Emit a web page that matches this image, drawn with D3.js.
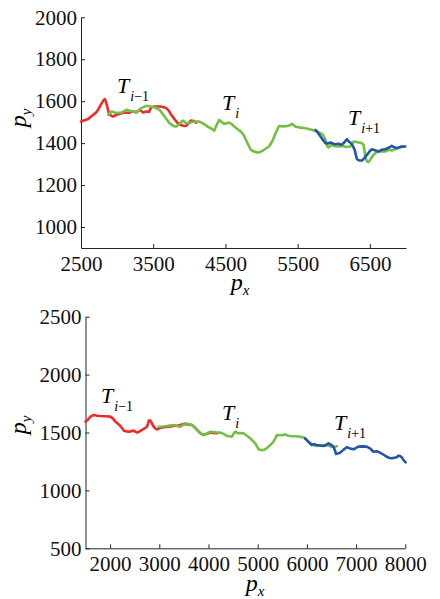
<!DOCTYPE html>
<html><head><meta charset="utf-8">
<script src="https://cdn.jsdelivr.net/npm/d3@7"></script>
<style>body{margin:0;background:#fff;}</style></head>
<body><svg id="c" width="440" height="599" font-family="Liberation Serif"></svg>
<script>
// ---- Panel 1 (top) data ----
const topRedX = [2500,2600,2670,2720,2762,2790,2808,2830,2845,2862,2878,2891,2920,2946,2990,3037,3100,3160,3221,3270,3312,3360,3404,3440,3473,3520,3588,3640,3680,3715,3749,3800,3840,3890,3932,3960,3990,4024,4060,4094];
const topRedY = [1503,1515,1535,1550,1575,1592,1603,1610,1598,1575,1552,1540,1530,1527,1535,1540,1546,1545,1551,1548,1559,1546,1551,1548,1571,1575,1575,1572,1567,1555,1535,1512,1495,1485,1482,1483,1495,1508,1505,1498];
const topGreenX = [2877,2923,2990,3060,3129,3200,3266,3335,3404,3460,3519,3588,3657,3726,3780,3818,3860,3910,3950,3979,4030,4071,4140,4200,4254,4300,4346,4380,4415,4450,4484,4520,4553,4590,4622,4670,4714,4750,4783,4820,4852,4897,4930,4966,5020,5104,5150,5196,5242,5300,5360,5403,5420,5470,5540,5610,5680,5724,5770,5816,5850,5885,5910,5931,5960,6000,6060,6120,6175,6229,6275,6330,6390,6415,6427,6440,6459,6480,6504,6540,6574,6620,6670,6712,6760,6800,6840,6872,6920,6964];
const topGreenY = [1535,1551,1544,1546,1559,1552,1546,1567,1578,1575,1571,1559,1527,1495,1482,1479,1490,1508,1497,1495,1500,1503,1503,1492,1479,1470,1460,1488,1511,1500,1492,1495,1498,1490,1479,1466,1455,1440,1416,1390,1368,1360,1356,1356,1365,1384,1410,1448,1482,1480,1482,1487,1492,1478,1474,1471,1465,1460,1455,1448,1440,1416,1384,1380,1392,1387,1384,1386,1382,1384,1408,1404,1400,1390,1360,1330,1313,1310,1321,1340,1352,1362,1360,1360,1368,1365,1370,1376,1380,1384];
const topBlueX = [5747,5780,5816,5850,5885,5920,5954,6010,6068,6100,6137,6160,6183,6205,6229,6260,6289,6305,6321,6350,6390,6425,6459,6495,6528,6570,6620,6660,6712,6760,6803,6840,6872,6920,6964,6990];
const topBlueY = [1463,1450,1432,1415,1400,1398,1403,1395,1397,1392,1400,1410,1419,1408,1403,1390,1368,1345,1324,1318,1317,1330,1344,1360,1371,1366,1360,1368,1371,1378,1387,1380,1376,1382,1384,1384];

// ---- Panel 2 (bottom) data ----
const botRedX = [1500,1550,1601,1668,1740,1804,1900,2007,2060,2108,2160,2210,2250,2277,2330,2379,2430,2480,2520,2548,2600,2650,2700,2751,2770,2785,2810,2832,2860,2886,2920,2954,3020,3089,3190,3292,3390,3495,3580,3664,3730,3800,3850,3901,3970,4037,4100,4172];
const botRedY = [1594,1610,1637,1651,1645,1642,1640,1637,1620,1594,1575,1556,1535,1516,1510,1507,1512,1516,1505,1499,1510,1522,1535,1550,1575,1602,1605,1594,1570,1550,1535,1527,1540,1545,1550,1556,1560,1573,1570,1565,1540,1507,1490,1478,1490,1499,1496,1493];
const botGreenX = [2988,3070,3157,3220,3292,3360,3428,3480,3529,3600,3664,3730,3800,3850,3901,3970,4037,4140,4240,4310,4375,4430,4476,4510,4544,4580,4611,4660,4713,4780,4848,4900,4950,4985,5017,5070,5119,5170,5220,5270,5322,5360,5389,5450,5524,5560,5600,5660,5760,5863,5920,5964,6020,6066,6130,6201,6280,6370,6440,6505,6560,6607];
const botGreenY = [1550,1552,1556,1560,1565,1555,1550,1565,1579,1572,1565,1540,1507,1490,1478,1492,1507,1502,1499,1488,1470,1468,1464,1490,1507,1498,1493,1496,1493,1472,1450,1428,1406,1380,1355,1348,1349,1360,1378,1398,1421,1450,1478,1476,1478,1485,1474,1470,1468,1464,1458,1450,1425,1406,1392,1383,1388,1392,1385,1378,1372,1383];
const botBlueX = [5964,6030,6100,6150,6201,6270,6336,6390,6438,6490,6539,6570,6593,6630,6674,6740,6810,6880,6945,7000,7046,7130,7215,7290,7351,7420,7486,7550,7621,7680,7723,7780,7824,7860,7892,7930,7960,7985,8008];
const botBlueY = [1450,1420,1392,1398,1392,1388,1383,1392,1406,1395,1378,1345,1314,1318,1326,1350,1372,1362,1355,1368,1378,1380,1378,1360,1334,1338,1326,1310,1291,1280,1277,1282,1286,1300,1297,1285,1263,1252,1242];

// ---- Tick labels ----
const topXTicks = [2500,3500,4500,5500,6500];
const topYTicks = [1000,1200,1400,1600,1800,2000];
const botXTicks = [2000,3000,4000,5000,6000,7000,8000];
const botYTicks = [500,1000,1500,2000,2500];

const colors = {red:"#ee2b26", green:"#72bf44", blue:"#2456a8"};
const FONT = "Liberation Serif";

const svg = d3.select("#c");

function zip(xs, ys){ return xs.map((x,i)=>[x, ys[i]]); }

function addText(parent, x, y, size){
  return parent.append("text").attr("x", x).attr("y", y)
    .attr("font-family", FONT).attr("font-size", size)
    .style("font-family", "'" + FONT + "'");
}

function panel(cfg){
  const g = svg.append("g").attr("font-family", FONT);
  const x = d3.scaleLinear().domain(cfg.xDomain).range([cfg.left, cfg.right]);
  const y = d3.scaleLinear().domain(cfg.yDomain).range([cfg.bottom, cfg.top]);
  const line = d3.line().x(d=>x(d[0])).y(d=>y(d[1]));

  const xa = g.append("g").attr("transform", `translate(0,${cfg.bottom})`)
    .call(d3.axisBottom(x).tickValues(cfg.xTicks).tickFormat(d3.format("d"))
      .tickSizeInner(-4).tickSizeOuter(0).tickPadding(8));
  const ya = g.append("g").attr("transform", `translate(${cfg.left},0)`)
    .call(d3.axisLeft(y).tickValues(cfg.yTicks).tickFormat(d3.format("d"))
      .tickSizeInner(-4).tickSizeOuter(0).tickPadding(4));
  [xa, ya].forEach(a=>{
    a.attr("font-family", FONT).attr("font-size", 21);
    a.selectAll("text").attr("font-family", FONT).attr("font-size", 21)
      .style("font-family", "'" + FONT + "'").attr("fill","#111");
    a.selectAll("path,line").attr("stroke","#222").attr("stroke-width",1);
  });
  xa.selectAll("line").filter(d=>d===cfg.xDomain[0]).remove();

  cfg.series.forEach(s=>{
    g.append("path").datum(zip(s.x, s.y)).attr("d", line)
      .attr("fill","none").attr("stroke", colors[s.c]).attr("stroke-width",2.6)
      .attr("stroke-linejoin","round").attr("stroke-linecap","round");
  });

  // axis labels
  const px = addText(g, cfg.pxPos[0], cfg.pxPos[1], 24)
    .attr("text-anchor","middle").attr("font-style","italic");
  px.append("tspan").text("p");
  px.append("tspan").attr("font-size",15).attr("dy",5).text("x");

  const py = addText(g, 0, 0, 24)
    .attr("transform", `translate(${cfg.pyPos[0]},${cfg.pyPos[1]}) rotate(-90)`)
    .attr("text-anchor","middle").attr("font-style","italic");
  py.append("tspan").text("p");
  py.append("tspan").attr("font-size",15).attr("dy",5).text("y");

  cfg.labels.forEach(l=>{
    const t = addText(g, l.x, l.y, 22);
    t.append("tspan").attr("font-style","italic").text("T");
    const sub = t.append("tspan").attr("font-size",14).attr("dy",8).attr("dx",1);
    sub.append("tspan").attr("font-style","italic").text("i");
    if (l.s) sub.append("tspan").text(l.s);
  });
}

panel({
  left:81, right:406, top:17.3, bottom:248,
  xDomain:[2500,7000], yDomain:[900,2000],
  xTicks: topXTicks, yTicks: topYTicks,
  pxPos:[240,290], pyPos:[26,118],
  series:[
    {x:topRedX, y:topRedY, c:"red"},
    {x:topGreenX, y:topGreenY, c:"green"},
    {x:topBlueX, y:topBlueY, c:"blue"}
  ],
  labels:[{x:117,y:93,s:"−1"},{x:222,y:110,s:""},{x:348,y:125,s:"+1"}]
});

panel({
  left:85.5, right:405.3, top:316.7, bottom:548.3,
  xDomain:[1500,8000], yDomain:[500,2500],
  xTicks: botXTicks, yTicks: botYTicks,
  pxPos:[255,591], pyPos:[26,425],
  series:[
    {x:botRedX, y:botRedY, c:"red"},
    {x:botGreenX, y:botGreenY, c:"green"},
    {x:botBlueX, y:botBlueY, c:"blue"}
  ],
  labels:[{x:101,y:403,s:"−1"},{x:222,y:420,s:""},{x:334,y:430,s:"+1"}]
});
</script></body></html>
